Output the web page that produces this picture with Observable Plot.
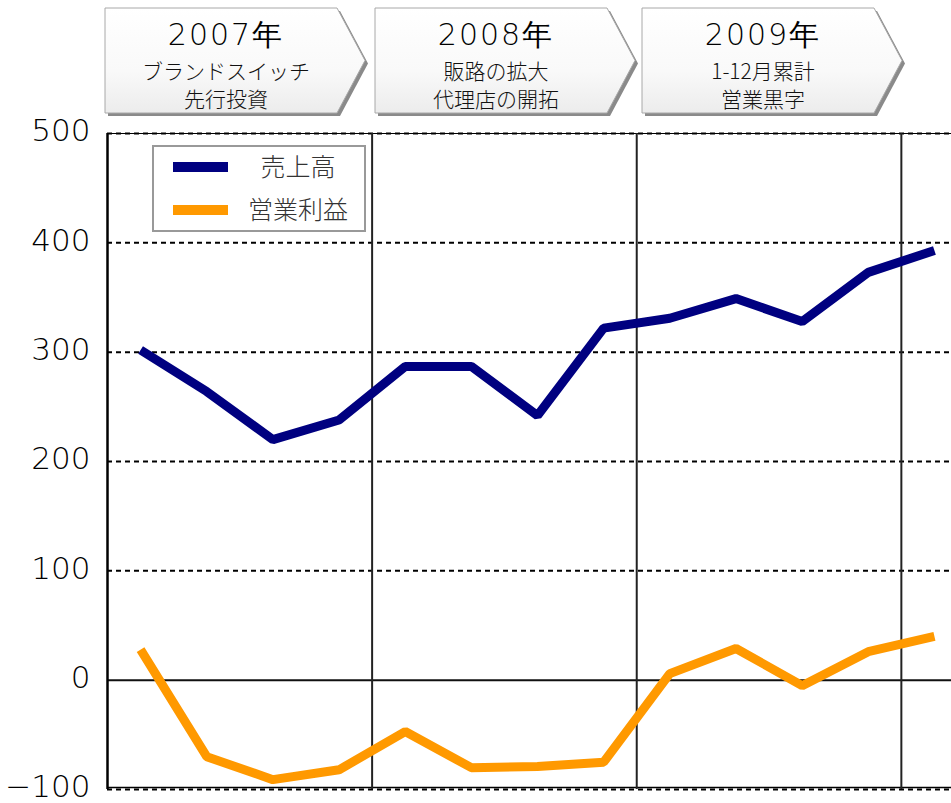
<!DOCTYPE html>
<html>
<head>
<meta charset="utf-8">
<script src="https://cdn.jsdelivr.net/npm/d3@7"></script>
<script src="https://cdn.jsdelivr.net/npm/@observablehq/plot@0.6"></script>
<style>
  html, body { margin: 0; padding: 0; background: #fff; }
  #chart { position: relative; width: 951px; height: 803px; overflow: hidden; }
</style>
</head>
<body>
<div id="chart"></div>
<script>
// ---- data ----
const quarters = [0, 1, 2, 3, 4, 5, 6, 7, 8, 9, 10, 11, 12]; // 2007Q1 ... 2010Q1
const sales  = [302, 264, 220, 238, 287, 287, 242, 322, 331, 349, 328, 373, 393];
const profit = [28, -70, -91, -82, -47, -80, -79, -75, 6, 29, -5, 26, 40];
const seriesNames = ["売上高", "営業利益"];
const seriesColors = ["#000080", "#FF9900"];
const yTicks = [-100, 0, 100, 200, 300, 400, 500];
const gridTicks = [-100, 100, 200, 300, 400, 500];
const yearBoundaries = [3.5, 7.5, 11.5];
const headerYears = ["2007年", "2008年", "2009年"];
const headerLine2 = ["ブランドスイッチ", "販路の拡大", "1-12月累計"];
const headerLine3 = ["先行投資", "代理店の開拓", "営業黒字"];

const rows = [];
quarters.forEach((q, i) => {
  rows.push({q, value: sales[i], series: seriesNames[0]});
  rows.push({q, value: profit[i], series: seriesNames[1]});
});

const chart = Plot.plot({
  width: 951,
  height: 803,
  marginTop: 133,
  marginBottom: 14,
  marginLeft: 107,
  marginRight: 0,
  style: {fontFamily: "'DejaVu Sans', sans-serif", background: "#fff", overflow: "hidden"},
  x: {domain: [-0.5, 12.258], axis: null},
  y: {domain: [-100, 500], ticks: yTicks, label: null},
  color: {domain: seriesNames, range: seriesColors},
  marks: [
    Plot.ruleY(gridTicks, {stroke: "#000", strokeWidth: 2, strokeDasharray: "5,4"}),
    Plot.ruleY([500], {stroke: "#000", strokeWidth: 1}),
    Plot.ruleY([-100], {stroke: "#000", strokeWidth: 1.5, dy: -2}),
    Plot.ruleY([0], {stroke: "#111", strokeWidth: 2}),
    Plot.ruleX(yearBoundaries, {stroke: "#222", strokeWidth: 2}),
    Plot.ruleX([-0.5], {stroke: "#000", strokeWidth: 2.5}),
    Plot.line(rows, {x: "q", y: "value", z: "series", stroke: "series", strokeWidth: 9, strokeLinejoin: "miter", strokeLinecap: "butt"}),
    Plot.axisY(yTicks, {label: null, tickSize: 0, tickPadding: 17, fontSize: 31, fill: "#000", fontWeight: 300, dy: -2, style: {letterSpacing: "3px"}})
  ]
});
document.getElementById("chart").appendChild(chart);

const svg = d3.select(chart);

// ---- header arrow boxes ----
const defs = svg.append("defs");
const grad = defs.append("linearGradient").attr("id", "hdrGrad").attr("x1", 0).attr("y1", 0).attr("x2", 0).attr("y2", 1);
grad.append("stop").attr("offset", "0%").attr("stop-color", "#ffffff");
grad.append("stop").attr("offset", "60%").attr("stop-color", "#f9f9f9");
grad.append("stop").attr("offset", "100%").attr("stop-color", "#ececec");

const boxLefts = [105, 375, 642];
const hdr = svg.append("g");
boxLefts.forEach((x0, i) => {
  const top = 8, bot = 113, flat = 232, tip = 28;
  const mid = (top + bot) / 2;
  const pts = (dx, dy) => [[x0 + dx, top + dy], [x0 + flat + dx, top + dy], [x0 + flat + tip + dx, mid + dy], [x0 + flat + dx, bot + dy], [x0 + dx, bot + dy]].map(p => p.join(",")).join(" ");
  hdr.append("polygon").attr("points", pts(3, 3)).attr("fill", "#8a8a8a");
  hdr.append("polygon").attr("points", pts(0, 0)).attr("fill", "url(#hdrGrad)").attr("stroke", "#a8a8a8").attr("stroke-width", 1);
  const cx = x0 + 121;
  hdr.append("text").attr("x", cx).attr("y", 45).attr("text-anchor", "middle")
    .attr("font-family", "'DejaVu Sans', sans-serif").attr("font-size", 30).attr("font-weight", 300)
    .attr("letter-spacing", "2px").attr("fill", "#000").text(headerYears[i]);
  hdr.append("text").attr("x", cx).attr("y", 79).attr("text-anchor", "middle")
    .attr("font-family", "'Noto Sans CJK JP', sans-serif").attr("font-weight", 300).attr("font-size", 21).attr("fill", "#111").text(headerLine2[i]);
  hdr.append("text").attr("x", cx).attr("y", 107).attr("text-anchor", "middle")
    .attr("font-family", "'Noto Sans CJK JP', sans-serif").attr("font-weight", 300).attr("font-size", 21).attr("fill", "#111").text(headerLine3[i]);
});

// ---- legend ----
const lg = svg.append("g");
lg.append("rect").attr("x", 153).attr("y", 146).attr("width", 212).attr("height", 85)
  .attr("fill", "#fff").attr("stroke", "#999").attr("stroke-width", 2);
seriesNames.forEach((name, i) => {
  const cy = 167 + i * 43;
  lg.append("rect").attr("x", 173).attr("y", cy - 5).attr("width", 55).attr("height", 10).attr("fill", seriesColors[i]);
  lg.append("text").attr("x", 298).attr("y", cy).attr("dy", "0.36em").attr("text-anchor", "middle")
    .attr("font-family", "'Noto Sans CJK JP', sans-serif").attr("font-weight", 300).attr("font-size", 25).attr("fill", "#333").text(name);
});
</script>
</body>
</html>
